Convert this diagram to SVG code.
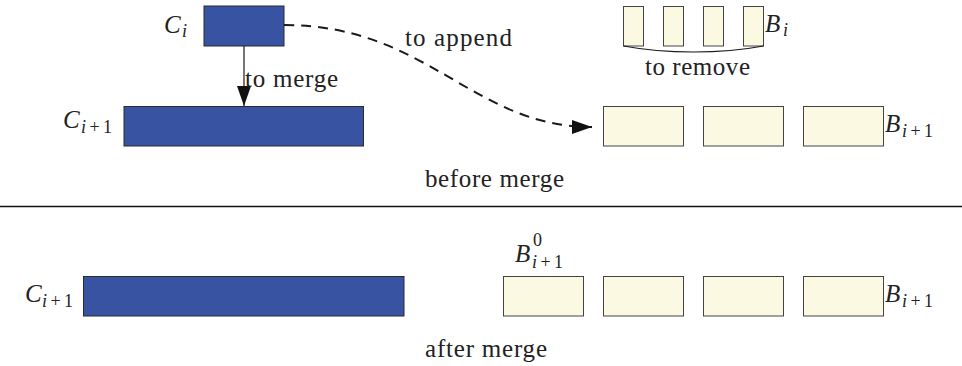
<svg xmlns="http://www.w3.org/2000/svg" width="962" height="366" viewBox="0 0 962 366">
  <style>
    .blk { fill: #3953a3; stroke: #2b2b2b; stroke-width: 1; }
    .buf { fill: #fcf9e2; stroke: #444; stroke-width: 1; }
    text { font-family: 'Liberation Serif', 'Times New Roman', 'DejaVu Serif', serif; fill: #222; }
    .lbl { font-size: 25px; }
    .mi { font-size: 25px; font-style: italic; }
    .sb { font-size: 18px; }
    .it { font-style: italic; }
    .conn { fill: none; stroke: #1a1a1a; }
  </style>
  <defs>
    <marker id="head" viewBox="0 0 20 14" refX="20" refY="7" markerWidth="20" markerHeight="14" markerUnits="userSpaceOnUse" orient="auto">
      <path d="M0,0 L20,7 L0,14 Z" fill="#111"/>
    </marker>
  </defs>

  <!-- before merge -->
  <g id="ci">
    <rect class="blk" x="204" y="6" width="80" height="40"/>
    <text class="mi" x="164" y="33" font-family="Liberation Serif">C</text>
    <text class="sb it" x="182" y="37" font-family="Liberation Serif">i</text>
  </g>
  <g id="ci1-before">
    <rect class="blk" x="124" y="106.5" width="239.5" height="39.5"/>
    <text class="mi" x="63" y="128" font-family="Liberation Serif">C</text>
    <text class="sb" x="81" y="133" font-family="Liberation Serif" textLength="31"><tspan class="it">i</tspan>+1</text>
  </g>
  <g id="bi">
    <rect class="buf" x="623.5" y="6.5" width="20" height="39.5"/>
    <rect class="buf" x="663.5" y="6.5" width="20" height="39.5"/>
    <rect class="buf" x="703.5" y="6.5" width="20" height="39.5"/>
    <rect class="buf" x="743.5" y="6.5" width="20" height="39.5"/>
    <text class="mi" x="765" y="32" font-family="Liberation Serif">B</text>
    <text class="sb it" x="783" y="36" font-family="Liberation Serif">i</text>
  </g>
  <g id="bi1-before">
    <rect class="buf" x="603.5" y="106.5" width="80" height="39.5"/>
    <rect class="buf" x="703.5" y="106.5" width="80" height="39.5"/>
    <rect class="buf" x="803.5" y="106.5" width="80" height="39.5"/>
    <text class="mi" x="885" y="132" font-family="Liberation Serif">B</text>
    <text class="sb" x="902" y="137" font-family="Liberation Serif" textLength="31"><tspan class="it">i</tspan>+1</text>
  </g>

  <g id="connectors">
    <line class="conn" x1="244" y1="46" x2="244" y2="106" stroke-width="1.2" marker-end="url(#head)"/>
    <path class="conn" d="M284,25 C428,25 472,127 592,127" stroke-width="2" stroke-dasharray="10,7" marker-end="url(#head)"/>
    <path class="conn" d="M623.5,46 C650,51 680,52 693.5,52 C707,52 737,51 763.5,46" stroke-width="1.2"/>
  </g>

  <text class="lbl" x="245" y="87" textLength="93" font-family="Liberation Serif">to merge</text>
  <text class="lbl" x="405" y="46" textLength="107" font-family="Liberation Serif">to append</text>
  <text class="lbl" x="645" y="75" textLength="105" font-family="Liberation Serif">to remove</text>
  <text class="lbl" x="425" y="187" textLength="139" font-family="Liberation Serif">before merge</text>

  <line x1="0" y1="206.5" x2="962" y2="206.5" stroke="#111" stroke-width="1.3"/>

  <!-- after merge -->
  <g id="ci1-after">
    <rect class="blk" x="83.5" y="276.5" width="320.5" height="39.5"/>
    <text class="mi" x="25" y="302" font-family="Liberation Serif">C</text>
    <text class="sb" x="42" y="307" font-family="Liberation Serif" textLength="31"><tspan class="it">i</tspan>+1</text>
  </g>
  <g id="bi1-after">
    <rect class="buf" x="503.5" y="276.5" width="80" height="39.5"/>
    <rect class="buf" x="603.5" y="276.5" width="80" height="39.5"/>
    <rect class="buf" x="703.5" y="276.5" width="80" height="39.5"/>
    <rect class="buf" x="803.5" y="276.5" width="80" height="39.5"/>
    <text class="mi" x="885" y="302" font-family="Liberation Serif">B</text>
    <text class="sb" x="902" y="307" font-family="Liberation Serif" textLength="31"><tspan class="it">i</tspan>+1</text>
  </g>
  <g id="b0">
    <text class="mi" x="515" y="262" font-family="Liberation Serif">B</text>
    <text class="sb" x="533" y="246" font-family="Liberation Serif">0</text>
    <text class="sb" x="532" y="268" font-family="Liberation Serif" textLength="31"><tspan class="it">i</tspan>+1</text>
  </g>

  <text class="lbl" x="425" y="357" textLength="122" font-family="Liberation Serif">after merge</text>
</svg>
